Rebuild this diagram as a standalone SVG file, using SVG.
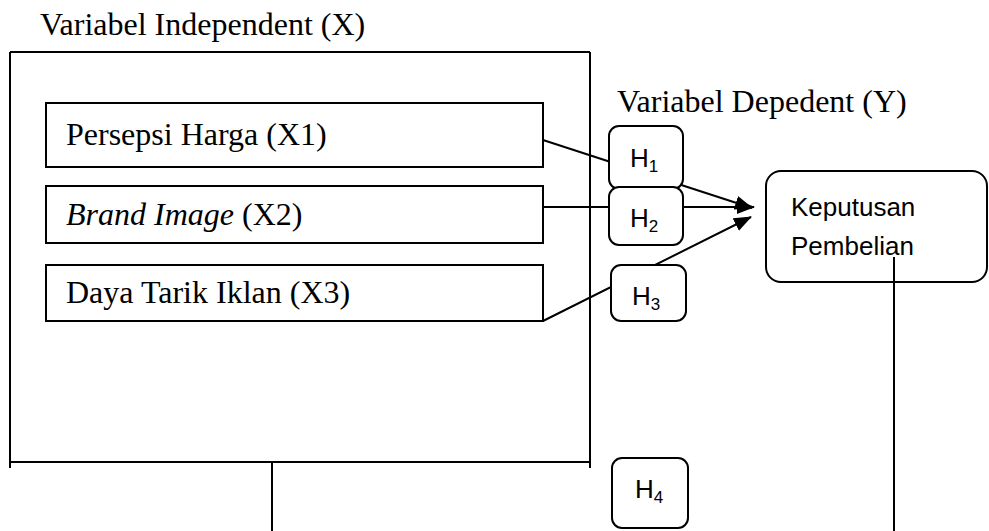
<svg xmlns="http://www.w3.org/2000/svg" width="989" height="531" viewBox="0 0 989 531">
<style>
.serif{font-family:"Liberation Serif","Times New Roman",serif;font-size:32px;fill:#000}
.sans{font-family:"Liberation Sans",Arial,sans-serif;fill:#000}
.box{fill:#fff;stroke:#000;stroke-width:2}
.hbox{fill:#fff;stroke:#000;stroke-width:2}
.ln{fill:none;stroke:#000;stroke-width:2}
.hl{font-size:26px}
.sub{font-size:17px}
</style>
<defs>
<marker id="arr" markerUnits="userSpaceOnUse" markerWidth="18" markerHeight="14" refX="17" refY="7" orient="auto">
<path d="M0,0 L18,7 L0,14 z" fill="#000"/>
</marker>
</defs>
<rect width="989" height="531" fill="#fff"/>

<g id="independent-frame">
<text class="serif" x="40" y="35">Variabel Independent (X)</text>
<path class="ln" d="M10,52 H590 M10,52 V468 M590,52 V468 M10,462 H590"/>
</g>

<g id="connectors">
<line class="ln" x1="543" y1="140" x2="752" y2="208" marker-end="url(#arr)"/>
<line class="ln" x1="543" y1="207" x2="754" y2="207" marker-end="url(#arr)"/>
<line class="ln" x1="543" y1="321" x2="751" y2="217" marker-end="url(#arr)"/>
<line class="ln" x1="272" y1="462" x2="272" y2="531"/>
<line class="ln" x1="894" y1="257" x2="894" y2="531"/>
</g>

<g id="x1">
<rect class="box" x="46" y="103" width="497" height="64"/>
<text class="serif" x="66" y="145">Persepsi Harga (X1)</text>
</g>
<g id="x2">
<rect class="box" x="46" y="186" width="497" height="57"/>
<text class="serif" x="66" y="225"><tspan font-style="italic">Brand Image</tspan> (X2)</text>
</g>
<g id="x3">
<rect class="box" x="46" y="265" width="497" height="56"/>
<text class="serif" x="66" y="303">Daya Tarik Iklan (X3)</text>
</g>

<g id="dependent-label">
<text class="serif" x="617" y="112">Variabel Depedent (Y)</text>
</g>

<g id="h1">
<rect class="hbox" x="609" y="126" width="74" height="63" rx="10"/>
<text class="sans hl" x="630" y="167">H<tspan class="sub" dy="5">1</tspan></text>
</g>
<g id="h2">
<rect class="hbox" x="609" y="187" width="74" height="58" rx="10"/>
<text class="sans hl" x="630" y="227">H<tspan class="sub" dy="5">2</tspan></text>
</g>
<g id="h3">
<rect class="hbox" x="611" y="265" width="75" height="56" rx="10"/>
<text class="sans hl" x="632" y="305">H<tspan class="sub" dy="5">3</tspan></text>
</g>
<g id="h4">
<rect class="hbox" x="612" y="458" width="76" height="70" rx="10"/>
<text class="sans hl" x="635" y="498">H<tspan class="sub" dy="5">4</tspan></text>
</g>

<g id="keputusan">
<rect class="hbox" x="766" y="171" width="221" height="111" rx="15"/>
<text class="sans" font-size="26" x="791" y="216">Keputusan</text>
<text class="sans" font-size="26" x="791" y="255">Pembelian</text>
<line class="ln" x1="894" y1="257" x2="894" y2="282"/>
</g>
</svg>
